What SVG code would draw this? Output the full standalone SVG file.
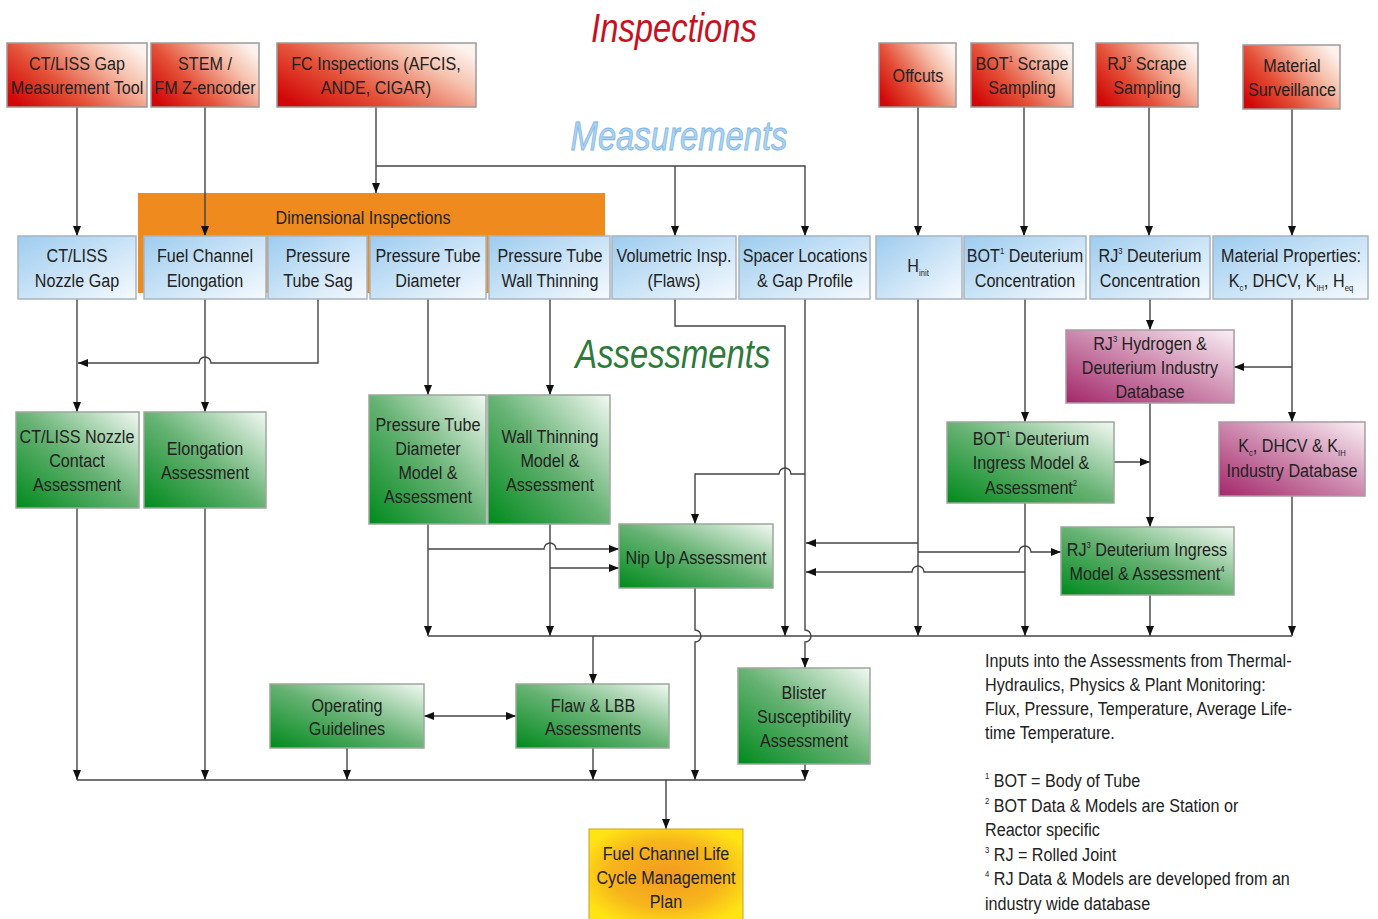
<svg xmlns="http://www.w3.org/2000/svg" width="1378" height="919" viewBox="0 0 1378 919">
<defs>
<linearGradient id="gRed" x1="0" y1="0.8" x2="1" y2="0.2"><stop offset="0" stop-color="#d20808"/><stop offset="0.35" stop-color="#e45138"/><stop offset="0.75" stop-color="#f6c2ae"/><stop offset="1" stop-color="#fdf3ee"/></linearGradient>
<linearGradient id="gBlue" x1="0" y1="0" x2="1" y2="1"><stop offset="0" stop-color="#9dccef"/><stop offset="1" stop-color="#f6fafe"/></linearGradient>
<linearGradient id="gGreen" x1="0" y1="1" x2="1" y2="0"><stop offset="0" stop-color="#008a1c"/><stop offset="0.5" stop-color="#66b273"/><stop offset="1" stop-color="#f3f9f3"/></linearGradient>
<linearGradient id="gPurple" x1="0" y1="1" x2="1" y2="0"><stop offset="0" stop-color="#a3276a"/><stop offset="0.5" stop-color="#cd88ad"/><stop offset="1" stop-color="#faf0f5"/></linearGradient>
<radialGradient id="gYellow" cx="0.5" cy="0.5" r="0.6"><stop offset="0" stop-color="#f39a1f"/><stop offset="0.6" stop-color="#f7b51c"/><stop offset="1" stop-color="#ffe414"/></radialGradient>
<marker id="ah" viewBox="0 0 10 10" refX="10" refY="5" markerWidth="10" markerHeight="10" markerUnits="userSpaceOnUse" orient="auto-start-reverse"><path d="M0,1 L10,5 L0,9 z" fill="#111"/></marker>
</defs>
<style>
.t{font-family:"Liberation Sans",Arial,sans-serif;font-size:19px;fill:#222;text-anchor:middle;transform-box:fill-box;transform-origin:50% 50%;transform:scaleX(0.85)}
.n{font-family:"Liberation Sans",Arial,sans-serif;font-size:19px;fill:#222;transform-box:fill-box;transform-origin:0 50%;transform:scaleX(0.85)}
.ttl{font-family:"Liberation Sans",Arial,sans-serif;font-size:40px;font-style:italic;text-anchor:middle;transform-box:fill-box;transform-origin:50% 50%;transform:scaleX(0.82)}
.red{fill:url(#gRed);stroke:#9a9a9a;stroke-width:1.5}
.blue{fill:url(#gBlue);stroke:#a8b4c0;stroke-width:1.5}
.green{fill:url(#gGreen);stroke:#9aa89a;stroke-width:1.5}
.purple{fill:url(#gPurple);stroke:#a89aa2;stroke-width:1.5}
.yellow{fill:url(#gYellow);stroke:#c9a020;stroke-width:1}
.c path{fill:none;stroke:#444;stroke-width:1.4}
.a{marker-end:url(#ah)}
.sup{font-size:9px}
</style>
<rect width="1378" height="919" fill="#ffffff"/>

<text class="ttl" x="674" y="42" fill="#c8101e">Inspections</text>
<text class="ttl" x="679" y="150" fill="#a9d3f2" stroke="#7eb3df" stroke-width="0.8">Measurements</text>
<text class="ttl" x="673" y="368" fill="#2e7a3a">Assessments</text>

<g id="dimensional-inspections"><rect x="138" y="193" width="467" height="100" fill="#ef8a1e"/><text class="t" x="363" y="224">Dimensional Inspections</text></g>

<g class="c" id="connectors">
<path class="a" d="M77,107 V236"/>
<path class="a" d="M205,107 V236"/>
<path class="a" d="M376,107 V193"/>
<path class="a" d="M376,166 H805 V236"/>
<path class="a" d="M675,166 V236"/>
<path class="a" d="M918,107 V236"/>
<path class="a" d="M1024,107 V236"/>
<path class="a" d="M1149,107 V236"/>
<path class="a" d="M1292,109 V236"/>
<path class="a" d="M77,299 V412"/>
<path class="a" d="M205,299 V412"/>
<path class="a" d="M318,299 V363 H211 a6,6 0 0 0 -12,0 H78"/>
<path class="a" d="M428,299 V395"/>
<path class="a" d="M550,299 V395"/>
<path class="a" d="M428,524 V636"/>
<path class="a" d="M428,549 H544 a6,6 0 0 1 12,0 H619"/>
<path class="a" d="M550,524 V636"/>
<path class="a" d="M550,568 H619"/>
<path class="a" d="M675,299 V326 H785 V636"/>
<path class="a" d="M805,299 V630 a6,6 0 0 1 0,12 V668"/>
<path class="a" d="M805,474 H791 a6,6 0 0 0 -12,0 H695 V524"/>
<path class="a" d="M695,588 V630 a6,6 0 0 1 0,12 V780"/>
<path class="a" d="M918,299 V636"/>
<path class="a" d="M918,543 H806"/>
<path class="a" d="M918,552 H1019 a6,6 0 0 1 12,0 H1061"/>
<path class="a" d="M1025,572 H924 a6,6 0 0 0 -12,0 H806"/>
<path class="a" d="M1025,299 V422"/>
<path class="a" d="M1025,503 V636"/>
<path class="a" d="M1114,462 H1150"/>
<path class="a" d="M1150,299 V330"/>
<path class="a" d="M1150,403 V527"/>
<path class="a" d="M1150,595 V636"/>
<path class="a" d="M1292,299 V422"/>
<path class="a" d="M1292,367 H1234"/>
<path class="a" d="M1292,496 V636"/>
<path d="M428,636 H1292"/>
<path class="a" d="M593,636 V684"/>
<path class="a" d="M424,716 H516" marker-start="url(#ah)"/>
<path class="a" d="M77,508 V780"/>
<path class="a" d="M205,508 V780"/>
<path class="a" d="M347,748 V780"/>
<path class="a" d="M593,748 V780"/>
<path class="a" d="M805,764 V780"/>
<path d="M77,780 H805"/>
<path class="a" d="M666,780 V829"/>
</g>

<g id="ct-liss-gap-tool"><rect class="red" x="7" y="43" width="140" height="64"/><text class="t" x="77" y="70">CT/LISS Gap</text><text class="t" x="77" y="94">Measurement Tool</text></g>
<g id="stem"><rect class="red" x="151" y="43" width="108" height="64"/><text class="t" x="205" y="70">STEM /</text><text class="t" x="205" y="94">FM Z-encoder</text></g>
<g id="fc-inspections"><rect class="red" x="277" y="43" width="199" height="64"/><text class="t" x="376" y="70">FC Inspections (AFCIS,</text><text class="t" x="376" y="94">ANDE, CIGAR)</text></g>
<g id="offcuts"><rect class="red" x="879" y="43" width="77" height="64"/><text class="t" x="918" y="82">Offcuts</text></g>
<g id="bot-scrape"><rect class="red" x="971" y="43" width="102" height="64"/><text class="t" x="1022" y="70">BOT<tspan class="sup" baseline-shift="8">1</tspan> Scrape</text><text class="t" x="1022" y="94">Sampling</text></g>
<g id="rj-scrape"><rect class="red" x="1096" y="43" width="102" height="64"/><text class="t" x="1147" y="70">RJ<tspan class="sup" baseline-shift="8">3</tspan> Scrape</text><text class="t" x="1147" y="94">Sampling</text></g>
<g id="material-surveillance"><rect class="red" x="1243" y="45" width="97" height="64"/><text class="t" x="1292" y="72">Material</text><text class="t" x="1292" y="96">Surveillance</text></g>

<g id="ct-liss-nozzle-gap"><rect class="blue" x="18" y="236" width="118" height="63"/><text class="t" x="77" y="262">CT/LISS</text><text class="t" x="77" y="287">Nozzle Gap</text></g>
<g id="fc-elongation"><rect class="blue" x="144" y="236" width="122" height="63"/><text class="t" x="205" y="262">Fuel Channel</text><text class="t" x="205" y="287">Elongation</text></g>
<g id="pt-sag"><rect class="blue" x="268" y="236" width="99" height="63"/><text class="t" x="318" y="262">Pressure</text><text class="t" x="318" y="287">Tube Sag</text></g>
<g id="pt-diameter"><rect class="blue" x="370" y="236" width="116" height="63"/><text class="t" x="428" y="262">Pressure Tube</text><text class="t" x="428" y="287">Diameter</text></g>
<g id="pt-wall-thinning"><rect class="blue" x="489" y="236" width="121" height="63"/><text class="t" x="550" y="262">Pressure Tube</text><text class="t" x="550" y="287">Wall Thinning</text></g>
<g id="volumetric"><rect class="blue" x="612" y="236" width="124" height="63"/><text class="t" x="674" y="262">Volumetric Insp.</text><text class="t" x="674" y="287">(Flaws)</text></g>
<g id="spacer-locations"><rect class="blue" x="739" y="236" width="131" height="63"/><text class="t" x="805" y="262">Spacer Locations</text><text class="t" x="805" y="287">&amp; Gap Profile</text></g>
<g id="hinit"><rect class="blue" x="876" y="236" width="86" height="63"/><text class="t" x="918" y="272">H<tspan class="sup" baseline-shift="-4">init</tspan></text></g>
<g id="bot-deuterium"><rect class="blue" x="964" y="236" width="122" height="63"/><text class="t" x="1025" y="262">BOT<tspan class="sup" baseline-shift="8">1</tspan> Deuterium</text><text class="t" x="1025" y="287">Concentration</text></g>
<g id="rj-deuterium"><rect class="blue" x="1090" y="236" width="120" height="63"/><text class="t" x="1150" y="262">RJ<tspan class="sup" baseline-shift="8">3</tspan> Deuterium</text><text class="t" x="1150" y="287">Concentration</text></g>
<g id="material-properties"><rect class="blue" x="1213" y="236" width="155" height="63"/><text class="t" x="1291" y="262">Material Properties:</text><text class="t" x="1291" y="287">K<tspan class="sup" baseline-shift="-4">c</tspan>, DHCV, K<tspan class="sup" baseline-shift="-4">IH</tspan>, H<tspan class="sup" baseline-shift="-4">eq</tspan></text></g>

<g id="ct-liss-contact"><rect class="green" x="16" y="412" width="123" height="96"/><text class="t" x="77" y="443">CT/LISS Nozzle</text><text class="t" x="77" y="467">Contact</text><text class="t" x="77" y="491">Assessment</text></g>
<g id="elongation-assessment"><rect class="green" x="144" y="412" width="122" height="96"/><text class="t" x="205" y="455">Elongation</text><text class="t" x="205" y="479">Assessment</text></g>
<g id="ptd-model"><rect class="green" x="369" y="395" width="117" height="129"/><text class="t" x="428" y="431">Pressure Tube</text><text class="t" x="428" y="455">Diameter</text><text class="t" x="428" y="479">Model &amp;</text><text class="t" x="428" y="503">Assessment</text></g>
<g id="wt-model"><rect class="green" x="488" y="395" width="122" height="129"/><text class="t" x="550" y="443">Wall Thinning</text><text class="t" x="550" y="467">Model &amp;</text><text class="t" x="550" y="491">Assessment</text></g>
<g id="nip-up"><rect class="green" x="619" y="524" width="154" height="64"/><text class="t" x="696" y="564">Nip Up Assessment</text></g>
<g id="rj-hd-database"><rect class="purple" x="1066" y="330" width="168" height="73"/><text class="t" x="1150" y="350">RJ<tspan class="sup" baseline-shift="8">3</tspan> Hydrogen &amp;</text><text class="t" x="1150" y="374">Deuterium Industry</text><text class="t" x="1150" y="398">Database</text></g>
<g id="bot-ingress"><rect class="green" x="947" y="422" width="167" height="81"/><text class="t" x="1031" y="445">BOT<tspan class="sup" baseline-shift="8">1</tspan> Deuterium</text><text class="t" x="1031" y="469">Ingress Model &amp;</text><text class="t" x="1031" y="494">Assessment<tspan class="sup" baseline-shift="8">2</tspan></text></g>
<g id="kc-database"><rect class="purple" x="1219" y="422" width="146" height="74"/><text class="t" x="1292" y="452">K<tspan class="sup" baseline-shift="-4">c</tspan>, DHCV &amp; K<tspan class="sup" baseline-shift="-4">IH</tspan></text><text class="t" x="1292" y="477">Industry Database</text></g>
<g id="rj-ingress"><rect class="green" x="1061" y="527" width="173" height="68"/><text class="t" x="1147" y="556">RJ<tspan class="sup" baseline-shift="8">3</tspan> Deuterium Ingress</text><text class="t" x="1147" y="580">Model &amp; Assessment<tspan class="sup" baseline-shift="8">4</tspan></text></g>
<g id="operating-guidelines"><rect class="green" x="270" y="684" width="154" height="64"/><text class="t" x="347" y="712">Operating</text><text class="t" x="347" y="735">Guidelines</text></g>
<g id="flaw-lbb"><rect class="green" x="516" y="684" width="153" height="64"/><text class="t" x="593" y="712">Flaw &amp; LBB</text><text class="t" x="593" y="735">Assessments</text></g>
<g id="blister"><rect class="green" x="738" y="668" width="132" height="96"/><text class="t" x="804" y="699">Blister</text><text class="t" x="804" y="723">Susceptibility</text><text class="t" x="804" y="747">Assessment</text></g>
<g id="fclcmp"><rect class="yellow" x="589" y="829" width="154" height="92"/><text class="t" x="666" y="860">Fuel Channel Life</text><text class="t" x="666" y="884">Cycle Management</text><text class="t" x="666" y="908">Plan</text></g>

<g id="notes">
<text class="n" x="985" y="667">Inputs into the Assessments from Thermal-</text>
<text class="n" x="985" y="691">Hydraulics, Physics &amp; Plant Monitoring:</text>
<text class="n" x="985" y="715">Flux, Pressure, Temperature, Average Life-</text>
<text class="n" x="985" y="739">time Temperature.</text>
<text class="n" x="985" y="787"><tspan class="sup" baseline-shift="8">1</tspan> BOT = Body of Tube</text>
<text class="n" x="985" y="812"><tspan class="sup" baseline-shift="8">2</tspan> BOT Data &amp; Models are Station or</text>
<text class="n" x="985" y="836">Reactor specific</text>
<text class="n" x="985" y="861"><tspan class="sup" baseline-shift="8">3</tspan> RJ = Rolled Joint</text>
<text class="n" x="985" y="885"><tspan class="sup" baseline-shift="8">4</tspan> RJ Data &amp; Models are developed from an</text>
<text class="n" x="985" y="910">industry wide database</text>
</g>
</svg>
